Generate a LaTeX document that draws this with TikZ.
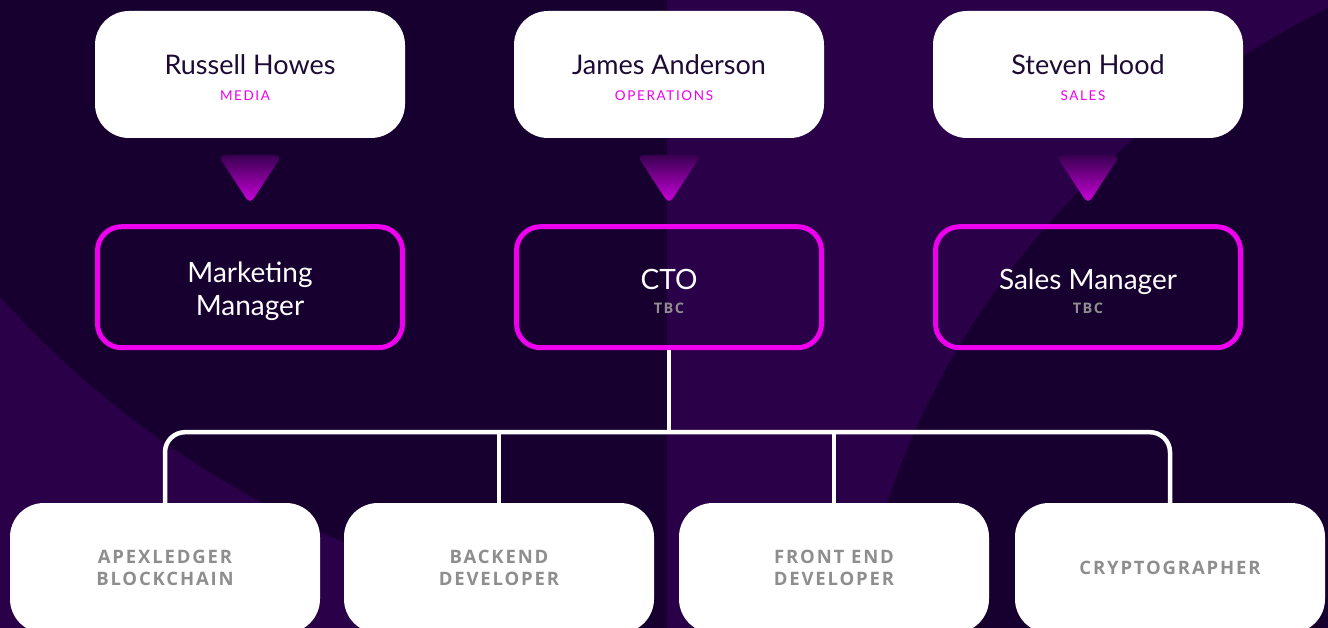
\documentclass[tikz,border=0pt]{standalone}
\usepackage{fontspec}
\setsansfont{Lato}
\newfontfamily\spacedfont[LetterSpace=12]{Lato}
\newfontfamily\rolefont[LetterSpace=10]{Open Sans}
\usetikzlibrary{positioning,calc}
\definecolor{night}{HTML}{170030}
\definecolor{dusk}{HTML}{2A0048}
\definecolor{neon}{HTML}{EE00EE}
\definecolor{ink}{HTML}{1E0B35}
\definecolor{steel}{HTML}{8E8E8E}
\definecolor{droptop}{HTML}{3A0052}
\definecolor{dropbot}{HTML}{D000E0}
\newcommand\dept[1]{{\spacedfont\fontsize{13.5}{15}\selectfont\color{neon}#1\kern10pt}}
\newcommand\pending{{\rolefont\bfseries\fontsize{14.5}{16}\selectfont\color{steel}TBC}}

\begin{document}
\begin{tikzpicture}[x=1pt,y=-1pt,font=\sffamily,
  lead/.style={fill=white,rounded corners=34pt,minimum width=310pt,minimum height=127pt,inner sep=0pt,align=center,text=ink,font=\sffamily\fontsize{27}{34}\selectfont},
  post/.style={draw=neon,line width=5pt,rounded corners=24pt,minimum width=305pt,minimum height=121pt,inner sep=0pt,align=center,text=white,font=\sffamily\fontsize{28}{33}\selectfont},
  seat/.style={fill=white,rounded corners=34pt,minimum width=310pt,minimum height=130pt,inner sep=0pt,align=center,text=steel,font=\rolefont\bfseries\fontsize{18.5}{22}\selectfont},
  wire/.style={draw=white,line width=4.5pt},
  drop/.style={top color=droptop,bottom color=dropbot,rounded corners=7pt}]
  \clip (0,0) rectangle (1328,628);
  % backdrop
  \fill[night] (0,0) rectangle (1328,628);
  \fill[dusk] (667,0) -- (1328,0) -- (1328,8) .. controls (1120,110) and (900,330) .. (858,628) -- (667,628) -- cycle;
  \fill[dusk] (0,297) .. controls (110,420) and (300,570) .. (640,628) -- (0,628) -- cycle;
  % people
  \node[lead] (russell) at (250,74.5) {\rule{0pt}{26pt}Russell Howes\\[-8pt]\dept{MEDIA}};
  \node[lead] (james) at (669,74.5) {\rule{0pt}{26pt}James Anderson\\[-8pt]\dept{OPERATIONS}};
  \node[lead] (steven) at (1088,74.5) {\rule{0pt}{26pt}Steven Hood\\[-8pt]\dept{SALES}};
  % roles
  \node[post,below=86pt of russell] (marketing) {\rule{0pt}{28pt}Marketing\\Manager};
  \node[post,below=86pt of james] (cto) {\rule{0pt}{28pt}CTO\\[-9pt]\pending};
  \node[post,below=86pt of steven] (sales) {\rule{0pt}{28pt}Sales Manager\\[-9pt]\pending};
  \foreach \who in {russell,james,steven}
    \shade[drop] ($(\who.south)+(-32,17)$) -- ++(64,0) -- ++(-32,49) -- cycle;
  % team
  \node[seat] (apex) at (165,568) {APEXLEDGER\\BLOCKCHAIN};
  \node[seat] (backend) at (499,568) {BACKEND\\DEVELOPER};
  \node[seat] (frontend) at (834,568) {FRONT END\\DEVELOPER};
  \node[seat] (crypto) at (1170,568) {CRYPTOGRAPHER};
  \coordinate (bus) at ($(cto.south)+(0,82)$);
  \draw[wire] (cto.south) -- (bus);
  \draw[wire,rounded corners=20pt] (apex.north) |- (crypto.north |- bus) -- (crypto.north);
  \draw[wire] (backend.north) -- (backend.north |- bus);
  \draw[wire] (frontend.north) -- (frontend.north |- bus);
\end{tikzpicture}
\end{document}
